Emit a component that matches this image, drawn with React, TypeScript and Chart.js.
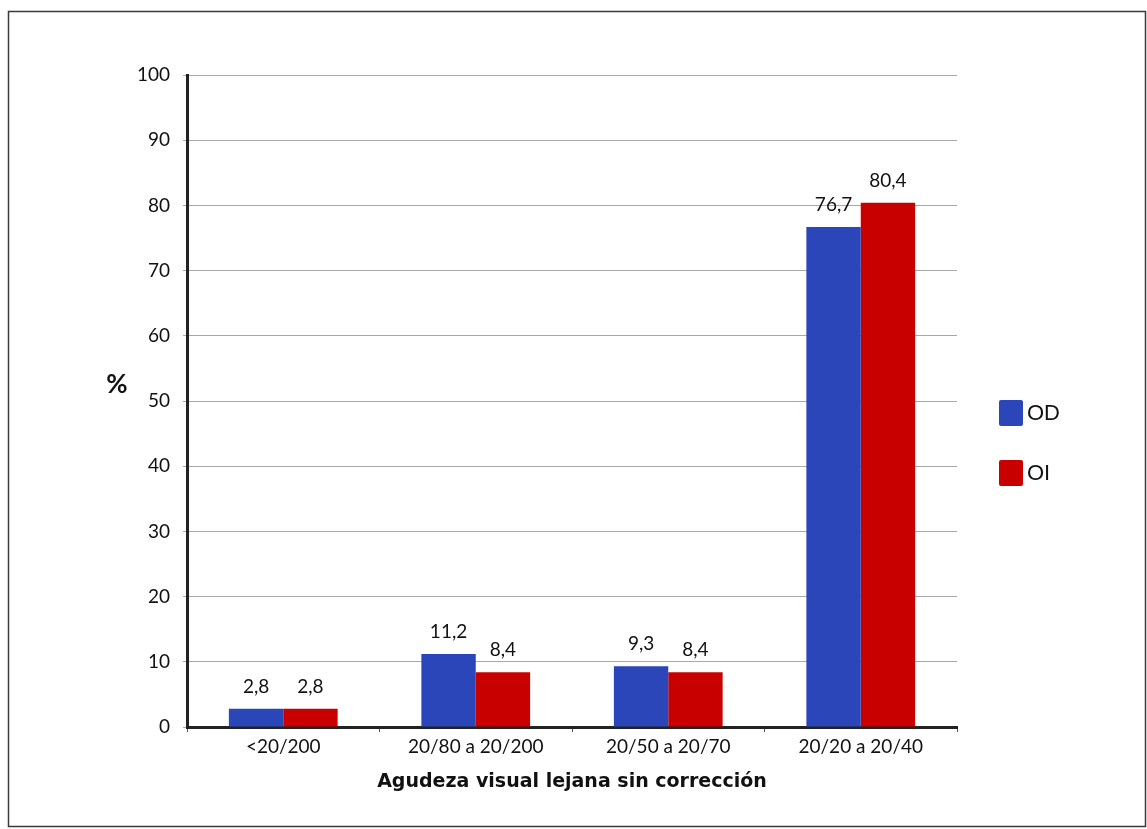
import React, { useEffect, useRef } from 'react';
import { Chart, registerables } from 'chart.js';

Chart.register(...registerables);

const categories = ['<20/200', '20/80 a 20/200', '20/50 a 20/70', '20/20 a 20/40'];
const odValues = [2.8, 11.2, 9.3, 76.7];
const oiValues = [2.8, 8.4, 8.4, 80.4];
const seriesNames = ['OD', 'OI'];
const seriesColors = ['#2B46B8', '#C80000'];
const yMin = 0;
const yMax = 100;
const yStep = 10;
const xTitle = 'Agudeza visual lejana sin corrección';
const yTitle = '%';

const FONT = 'Lato, "Open Sans", sans-serif';

const decorPlugin = {
  id: 'decor',
  beforeDraw(chart: any) {
    const ctx = chart.ctx;
    ctx.save();
    ctx.fillStyle = '#ffffff';
    ctx.fillRect(0, 0, chart.width, chart.height);
    ctx.strokeStyle = '#3a3a3a';
    ctx.lineWidth = 1.5;
    ctx.strokeRect(8.5, 11.5, 1137, 815);
    ctx.restore();
  },
  afterDatasetsDraw(chart: any) {
    const ctx = chart.ctx;
    ctx.save();
    // value labels
    ctx.fillStyle = '#111';
    ctx.font = `19px ${FONT}`;
    ctx.textAlign = 'center';
    ctx.textBaseline = 'alphabetic';
    chart.data.datasets.forEach((ds: any, i: number) => {
      const meta = chart.getDatasetMeta(i);
      meta.data.forEach((bar: any, j: number) => {
        const v = ds.data[j];
        ctx.fillText(String(v.toFixed(1)).replace('.', ','), bar.x, bar.y - 16);
      });
    });
    // y title
    ctx.font = `bold 26px ${FONT}`;
    ctx.textBaseline = 'middle';
    ctx.fillText(yTitle, 117, 385);
    // legend
    ctx.textAlign = 'left';
    ctx.font = `22px "Liberation Sans", Arial, sans-serif`;
    chart.data.datasets.forEach((ds: any, i: number) => {
      const bx = 999;
      const by = 400 + i * 60;
      ctx.fillStyle = ds.backgroundColor;
      ctx.beginPath();
      if ((ctx as any).roundRect) (ctx as any).roundRect(bx, by, 24, 26, 2);
      else ctx.rect(bx, by, 24, 26);
      ctx.fill();
      ctx.fillStyle = '#111';
      ctx.fillText(ds.label, bx + 28, by + 14);
    });
    ctx.restore();
  },
};

export default function App() {
  const canvasRef = useRef<HTMLCanvasElement | null>(null);

  useEffect(() => {
    if (!canvasRef.current) return;
    const chart = new Chart(canvasRef.current, {
      type: 'bar',
      data: {
        labels: categories,
        datasets: [
          {
            label: seriesNames[0],
            data: odValues,
            backgroundColor: seriesColors[0],
            categoryPercentage: 0.565,
            barPercentage: 1,
          },
          {
            label: seriesNames[1],
            data: oiValues,
            backgroundColor: seriesColors[1],
            categoryPercentage: 0.565,
            barPercentage: 1,
          },
        ],
      },
      options: {
        animation: false,
        responsive: true,
        maintainAspectRatio: false,
        layout: { padding: { left: 0, top: 75, right: 190, bottom: 0 } },
        plugins: {
          legend: { display: false },
          tooltip: { enabled: false },
        },
        scales: {
          x: {
            afterFit: (s: any) => {
              s.height = 102;
            },
            grid: {
              display: true,
              drawOnChartArea: false,
              drawTicks: true,
              tickLength: 5,
              color: '#555',
            },
            border: { color: '#222', width: 3 },
            ticks: {
              color: '#111',
              font: { family: FONT, size: 19 },
              padding: 3,
            },
            title: {
              display: true,
              text: xTitle,
              color: '#111',
              font: { family: '"DejaVu Sans", sans-serif', size: 19, weight: 'bold' },
              padding: { top: 0, bottom: 36 },
            },
          },
          y: {
            min: yMin,
            max: yMax,
            afterFit: (s: any) => {
              s.width = 187;
            },
            ticks: {
              stepSize: yStep,
              color: '#111',
              font: { family: FONT, size: 19 },
              padding: 13,
            },
            grid: {
              color: '#a8a8a8',
              lineWidth: 1,
              drawTicks: true,
              tickLength: 4,
            },
            border: { color: '#222', width: 3 },
          },
        },
      },
      plugins: [decorPlugin],
    });
    return () => chart.destroy();
  }, []);

  return (
    <div style={{ position: 'fixed', left: 0, top: 0, width: 1147, height: 829, background: '#fff' }}>
      <canvas ref={canvasRef} />
    </div>
  );
}
